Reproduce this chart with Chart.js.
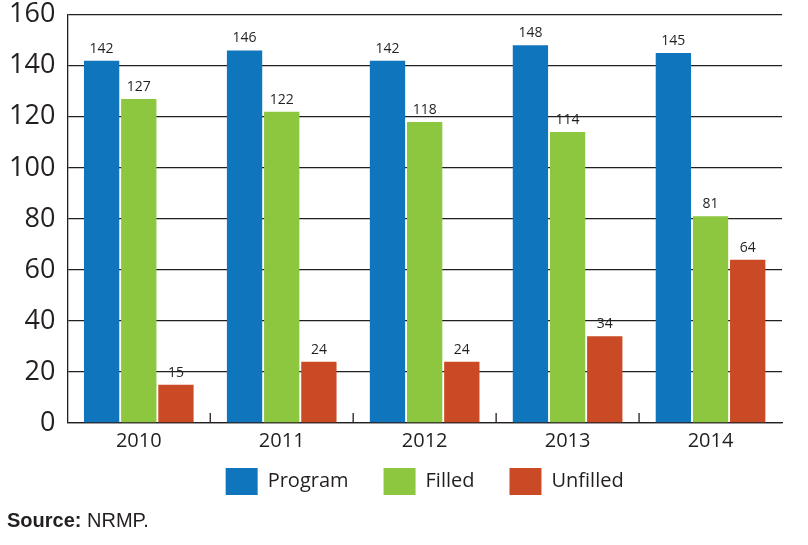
<!DOCTYPE html>
<html lang="en">
<head>
  <meta charset="UTF-8" />
  <title>NRMP positions</title>
  <script src="https://cdn.jsdelivr.net/npm/chart.js"></script>
  <style>
    html, body { margin: 0; padding: 0; background: #fff; }
    #wrap { position: relative; width: 808px; height: 545px; }
    #source { position: absolute; left: 7px; top: 509px; font-family: "Liberation Sans", Arial, sans-serif; font-size: 20px; color: #231f20; }
  </style>
</head>
<body>
  <div id="wrap">
    <canvas id="chart" width="808" height="545"></canvas>
    <div id="source"><b>Source:</b> NRMP.</div>
  </div>

  <script>
    const years = ["2010", "2011", "2012", "2013", "2014"];
    const program = [142, 146, 142, 148, 145];
    const filled = [127, 122, 118, 114, 81];
    const unfilled = [15, 24, 24, 34, 64];
    const yTicks = [0, 20, 40, 60, 80, 100, 120, 140, 160];

    const ink = "#231f20";
    const fontFam = "'Open Sans', 'Noto Sans', sans-serif";
    const legendGap = 35;
    const legendLift = 26;

    // value labels above each bar
    const barLabels = {
      id: "barLabels",
      afterDatasetsDraw(chart) {
        const ctx = chart.ctx;
        ctx.save();
        ctx.fillStyle = ink;
        ctx.font = "14px " + fontFam;
        ctx.textAlign = "center";
        ctx.textBaseline = "bottom";
        chart.data.datasets.forEach((ds, i) => {
          chart.getDatasetMeta(i).data.forEach((bar, j) => {
            ctx.fillText(ds.data[j], bar.x, bar.y - 5);
          });
        });
        ctx.restore();
      }
    };

    // short upward ticks between categories on the x axis
    const catTicks = {
      id: "catTicks",
      afterDraw(chart) {
        const x = chart.scales.x, y = chart.scales.y;
        const ctx = chart.ctx;
        const base = y.getPixelForValue(0);
        ctx.save();
        ctx.strokeStyle = ink;
        ctx.lineWidth = 1.3;
        for (let i = 0; i < years.length - 1; i++) {
          const px = (x.getPixelForValue(i) + x.getPixelForValue(i + 1)) / 2;
          ctx.beginPath();
          ctx.moveTo(px, base);
          ctx.lineTo(px, base - 10);
          ctx.stroke();
        }
        ctx.restore();
      }
    };

    // legend: wide gaps between items, pulled up closer to the axis
    const legendFit = {
      id: "legendFit",
      afterInit(chart) {
        const lg = chart.legend;
        const orig = lg.fit;
        lg.fit = function () {
          orig.call(this);
          this.height = legendGap + 27 + 2;
        };
      },
      afterLayout(chart) {
        const lg = chart.legend;
        lg.top -= legendLift;
        lg.bottom -= legendLift;
      }
    };

    const ctx = document.getElementById("chart").getContext("2d");
    new Chart(ctx, {
      type: "bar",
      data: {
        labels: years,
        datasets: [
          { label: "Program", data: program, backgroundColor: "#0f75bc" },
          { label: "Filled", data: filled, backgroundColor: "#8dc63f" },
          { label: "Unfilled", data: unfilled, backgroundColor: "#c94a24" }
        ]
      },
      options: {
        responsive: false,
        animation: false,
        categoryPercentage: 0.78,
        barPercentage: 0.95,
        layout: { padding: { top: -3, left: -3, right: 26, bottom: 22 } },
        plugins: {
          legend: {
            position: "bottom",
            fullSize: false,
            labels: {
              color: ink,
              boxWidth: 32,
              boxHeight: 27,
              padding: legendGap,
              font: { family: fontFam, size: 20 }
            }
          },
          tooltip: { enabled: false }
        },
        scales: {
          x: {
            grid: { display: false, drawTicks: false },
            border: { color: ink, width: 1.3 },
            ticks: { color: ink, font: { family: fontFam, size: 20 }, padding: 6 }
          },
          y: {
            min: 0,
            max: 160,
            afterBuildTicks(scale) { scale.ticks = yTicks.map(v => ({ value: v })); },
            grid: { color: ink, lineWidth: 1.3, drawTicks: false },
            border: { color: ink, width: 1.3 },
            ticks: { color: ink, font: { family: fontFam, size: 27, lineHeight: 0.2 }, padding: 12 }
          }
        }
      },
      plugins: [barLabels, catTicks, legendFit]
    });
  </script>
</body>
</html>
